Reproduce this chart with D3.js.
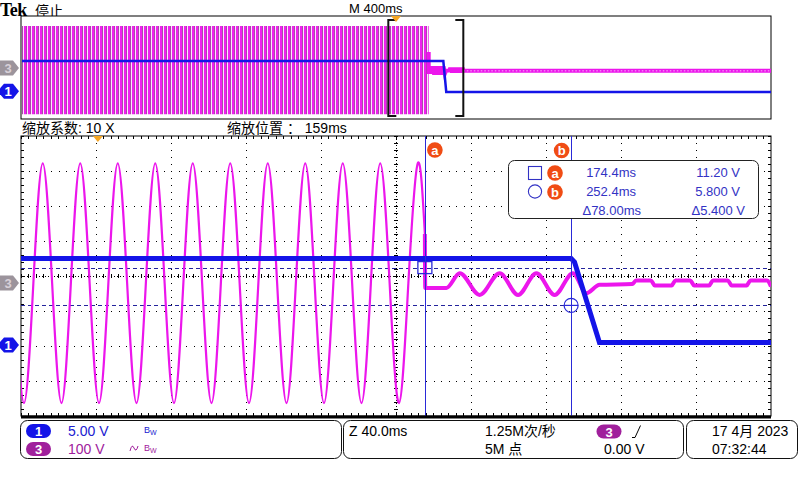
<!DOCTYPE html>
<html>
<head>
<meta charset="utf-8">
<script src="https://cdn.jsdelivr.net/npm/d3@7"></script>
<style>
  html, body { margin: 0; padding: 0; background: #fff; }
  svg { display: block; font-family: "Liberation Sans", "Noto Sans CJK SC", sans-serif; }
</style>
</head>
<body>
<div id="scope"></div>
<script>
// Zoomed window (40 ms/div, centre 159 ms) and the full record (400 ms/div), ms
const zoomWindow = [-41, 359];
const recordWindow = [-2000, 2000];
// Volts covered by the 8 vertical divisions
const ch1Span = [-10, 30];    // 5.00 V/div
const ch3Span = [-380, 420];  // 100 V/div

// CH1, DC supply (ms, V)
const ch1Zoom = [[-41, 12.5], [252.4, 12.5], [254.2, 12.0], [267.5, 0.5], [359, 0.5]];
const ch1Record = [[-2000, 12.5], [252.4, 12.5], [268, 0.5], [2000, 0.5]];

// CH3, mains before the cut: zero crossings, peaks and troughs (ms, V)
const ch3Sine = [
  [-44.4, 0], [-39.4, -343], [-34.4, 0], [-29.4, 342], [-24.4, 0], [-19.4, -343],
  [-14.4, 0], [-9.4, 342], [-4.4, 0], [0.6, -343], [5.6, 0], [10.6, 342],
  [15.6, 0], [20.6, -343], [25.6, 0], [30.6, 342], [35.6, 0], [40.6, -343],
  [45.6, 0], [50.6, 342], [55.6, 0], [60.6, -343], [65.6, 0], [70.6, 342],
  [75.6, 0], [80.6, -343], [85.6, 0], [90.6, 342], [95.6, 0], [100.6, -343],
  [105.6, 0], [110.6, 342], [115.6, 0], [120.6, -343], [125.6, 0], [130.6, 342],
  [135.6, 0], [140.6, -343], [145.6, 0], [150.6, 342], [155.6, 0], [160.6, -343],
  [165.6, 0], [170.6, 342], [174.4, 140]
];
// CH3 after the cut
const ch3After = [
  [174.4, 140], [174.6, -14], [185.9, -14], [193.0, 28], [203.6, -34], [214.3, 28],
  [224.1, -34], [233.9, 28], [243.6, -34], [253.4, 28], [260.5, -29], [267.6, -5],
  [285, -3], [287, 7], [295, 7], [297, -7], [306, -7], [308, 7], [316, 7],
  [318, -7], [326, -7], [328, 7], [336, 7], [338, -7], [346, -7], [348, 7],
  [357, 7], [359, -10]
];
// CH3 in the record view: envelope of the sine, then the residual ripple
const ch3RecordBand = [[-2000, 342, -343], [174.4, 342, -343]];
const ch3RecordTail = [[359, -6], [2000, -6]];

const triggerTime = 0;
const cursorTimes = [174.4, 252.4];
const cursorVolts = [11.20, 5.800];
const cursorNames = ["a", "b"];

const ch1Scale = "5.00 V";
const ch3Scale = "100 V";
const horizLabel = "Z 40.0ms";
const sampleRate = "1.25M次/秒";
const recordLength = "5M 点";
const triggerLevel = "0.00 V";
const dateLabel = "17 4月 2023";
const timeLabel = "07:32:44";

const BLUE = "#1414e8";
const MAGENTA = "#ec16ec";
const CURSOR = "#2a2ad8";
const READOUT = "#3232c4";
const ORANGE = "#f04c14";
const PURPLE = "#a0209c";

class ScopeScreen {
  constructor(containerId) {
    this.svg = d3.select(containerId).append("svg")
      .attr("width", 800).attr("height", 480);

    this.main = { left: 21, right: 771, top: 136, bottom: 416 };
    this.rec = { left: 21, right: 771, top: 16, bottom: 119 };

    this.x = d3.scaleLinear().domain(zoomWindow).range([this.main.left, this.main.right]);
    this.y1 = d3.scaleLinear().domain(ch1Span).range([this.main.bottom, this.main.top]);
    this.y3 = d3.scaleLinear().domain(ch3Span).range([this.main.bottom, this.main.top]);

    this.ox = d3.scaleLinear().domain(recordWindow).range([this.rec.left, this.rec.right]);
    this.oy1 = d3.scaleLinear().domain(ch1Span).range([this.rec.bottom, this.rec.top]);
    this.oy3 = d3.scaleLinear().domain(ch3Span).range([this.rec.bottom, this.rec.top]);

    this.defs();
    this.drawHeader();
    this.drawRecord();
    this.drawMain();
    this.drawStatus();
  }

  defs() {
    const defs = this.svg.append("defs");
    const m = this.main, r = this.rec;
    defs.append("clipPath").attr("id", "mainClip").append("rect")
      .attr("x", m.left).attr("y", m.top).attr("width", m.right - m.left).attr("height", m.bottom - m.top);
    defs.append("clipPath").attr("id", "recClip").append("rect")
      .attr("x", r.left + 1).attr("y", r.top).attr("width", r.right - r.left - 1).attr("height", r.bottom - r.top);

    const p = defs.append("pattern").attr("id", "stripes")
      .attr("patternUnits", "userSpaceOnUse").attr("width", 4).attr("height", 8);
    p.append("rect").attr("width", 4).attr("height", 8).attr("fill", "#fbe6fb");
    p.append("rect").attr("x", 0).attr("width", 2).attr("height", 8).attr("fill", "#f020f0");
    p.append("rect").attr("x", 2).attr("width", 1).attr("height", 8).attr("fill", "#a84aa8");
  }

  drawHeader() {
    const s = this.svg;
    s.append("text").attr("x", 0).attr("y", 16)
      .style("font-family", "'Liberation Serif', serif").style("font-weight", "bold")
      .style("font-size", "18px").style("letter-spacing", "-0.5px").text("Tek");
    s.append("text").attr("x", 35).attr("y", 16).style("font-size", "14px")
      .style("font-family", "'Noto Sans CJK SC'").text("停止");
    s.append("text").attr("x", 349).attr("y", 13).style("font-size", "13px").text("M 400ms");
    s.append("text").attr("x", 22).attr("y", 133).style("font-size", "14px").text("缩放系数: 10 X");
    s.append("text").attr("x", 227).attr("y", 133).style("font-size", "14px").text("缩放位置 ： 159ms");
  }

  marker(g, y, label, fill, textFill, bevel) {
    const d = bevel
      ? `M0,${y - 3}L4,${y - 7.5}H13L19,${y}L13,${y + 7.5}H4L0,${y + 3}Z`
      : `M0,${y - 7.5}H13L19,${y}L13,${y + 7.5}H0Z`;
    g.append("path").attr("d", d).attr("fill", fill);
    g.append("text").attr("x", 8).attr("y", y + 5).attr("text-anchor", "middle")
      .style("font-size", "13px").style("font-weight", "bold").attr("fill", textFill).text(label);
  }

  triggerMark(g, x, y) {
    g.append("path").attr("d", `M${x - 5},${y}L${x + 5},${y}L${x},${y + 6}Z`).attr("fill", "#f5a623");
  }

  drawRecord() {
    const r = this.rec;
    const g = this.svg.append("g");
    g.append("rect").attr("x", r.left).attr("y", r.top)
      .attr("width", r.right - r.left).attr("height", r.bottom - r.top)
      .attr("fill", "#fff").attr("stroke", "#000").attr("stroke-width", 1);

    const traces = g.append("g").attr("clip-path", "url(#recClip)");
    traces.append("path").datum(ch3RecordBand)
      .attr("d", d3.area().x(d => this.ox(d[0])).y0(d => this.oy3(d[2])).y1(d => this.oy3(d[1])))
      .attr("fill", "url(#stripes)");

    const tail = ch3After.concat(ch3RecordTail);
    const tailLine = d3.line().x(d => this.ox(d[0])).y(d => this.oy3(d[1]));
    traces.append("path").datum(tail).attr("d", tailLine)
      .attr("fill", "none").attr("stroke", MAGENTA).attr("stroke-width", 4);
    traces.append("path").datum(ch3RecordTail).attr("d", tailLine)
      .attr("fill", "none").attr("stroke", "#f9b8f9").attr("stroke-width", 1)
      .attr("stroke-dasharray", "1.5,2");

    traces.append("path").datum(ch1Record)
      .attr("d", d3.line().x(d => this.ox(d[0])).y(d => this.oy1(d[1])))
      .attr("fill", "none").attr("stroke", BLUE).attr("stroke-width", 2.5);

    // zoom bracket
    const bx0 = this.ox(zoomWindow[0]), bx1 = this.ox(zoomWindow[1]);
    const bt = r.top + 4, bb = r.bottom - 3;
    g.append("path").attr("d", `M${bx0 + 8},${bt}H${bx0}V${bb}H${bx0 + 8}M${bx1 - 8},${bt}H${bx1}V${bb}H${bx1 - 8}`)
      .attr("fill", "none").attr("stroke", "#111").attr("stroke-width", 2);

    this.triggerMark(g, this.ox(triggerTime), r.top);
    this.marker(g, this.oy3(0) - 2, "3", "#9c949c", "#d8d0d8", false);
    this.marker(g, this.oy1(0) - 2, "1", BLUE, "#fff", true);
  }

  drawGrid(g) {
    const m = this.main;
    const divX = (m.right - m.left) / 10, divY = (m.bottom - m.top) / 8;
    const cx = m.left + 5 * divX, cy = m.top + 4 * divY;

    d3.range(1, 10).filter(k => k !== 5).forEach(k => {
      g.append("line").attr("x1", m.left + k * divX).attr("x2", m.left + k * divX)
        .attr("y1", m.top).attr("y2", m.bottom)
        .attr("stroke", "#000").attr("stroke-dasharray", `1,${divY / 5 - 1}`);
    });
    d3.range(1, 8).filter(k => k !== 4).forEach(k => {
      g.append("line").attr("y1", m.top + k * divY).attr("y2", m.top + k * divY)
        .attr("x1", m.left).attr("x2", m.right)
        .attr("stroke", "#000").attr("stroke-dasharray", `1,${divX / 10 - 1}`);
    });

    // centre crosshair
    g.append("line").attr("x1", m.left).attr("x2", m.right).attr("y1", cy).attr("y2", cy)
      .attr("stroke", "#000").attr("stroke-dasharray", "1,2");
    g.append("line").attr("x1", cx).attr("x2", cx).attr("y1", m.top).attr("y2", m.bottom)
      .attr("stroke", "#000").attr("stroke-dasharray", "1,2");

    const tickH = d3.range(m.left, m.right, divX / 10);
    const tickV = d3.range(m.top, m.bottom, divY / 5);
    tickH.forEach(x => {
      g.append("line").attr("x1", x).attr("x2", x).attr("y1", cy - 2).attr("y2", cy + 2).attr("stroke", "#000");
      g.append("line").attr("x1", x).attr("x2", x).attr("y1", m.top).attr("y2", m.top + 3).attr("stroke", "#000");
      g.append("line").attr("x1", x).attr("x2", x).attr("y1", m.bottom - 3).attr("y2", m.bottom).attr("stroke", "#000");
    });
    tickV.forEach(y => {
      g.append("line").attr("x1", cx - 2).attr("x2", cx + 2).attr("y1", y).attr("y2", y).attr("stroke", "#000");
      g.append("line").attr("x1", m.left).attr("x2", m.left + 3).attr("y1", y).attr("y2", y).attr("stroke", "#000");
      g.append("line").attr("x1", m.right - 3).attr("x2", m.right).attr("y1", y).attr("y2", y).attr("stroke", "#000");
    });
  }

  drawMain() {
    const m = this.main;
    const g = this.svg.append("g");
    g.append("rect").attr("x", m.left).attr("y", m.top)
      .attr("width", m.right - m.left).attr("height", m.bottom - m.top)
      .attr("fill", "#fff").attr("stroke", "#000").attr("stroke-width", 1);
    this.drawGrid(g.append("g").attr("shape-rendering", "crispEdges"));

    const traces = g.append("g").attr("clip-path", "url(#mainClip)");

    // horizontal cursors (CH1 volts)
    traces.selectAll(".hcur").data(cursorVolts).enter().append("line")
      .attr("x1", m.left).attr("x2", m.right)
      .attr("y1", d => Math.round(this.y1(d)) + 0.5).attr("y2", d => Math.round(this.y1(d)) + 0.5)
      .attr("stroke", "#23239c").attr("stroke-width", 1.2).attr("stroke-dasharray", "4,3");

    traces.append("path").datum(ch3Sine)
      .attr("d", d3.line().x(d => this.x(d[0])).y(d => this.y3(d[1])).curve(d3.curveNatural))
      .attr("fill", "none").attr("stroke", MAGENTA).attr("stroke-width", 2.2);
    traces.append("path").datum(ch3After)
      .attr("d", d3.line().x(d => this.x(d[0])).y(d => this.y3(d[1])).curve(d3.curveMonotoneX))
      .attr("fill", "none").attr("stroke", MAGENTA).attr("stroke-width", 4);

    traces.append("path").datum(ch1Zoom)
      .attr("d", d3.line().x(d => this.x(d[0])).y(d => this.y1(d[1])))
      .attr("fill", "none").attr("stroke", BLUE).attr("stroke-width", 5);

    // vertical cursors
    traces.selectAll(".vcur").data(cursorTimes).enter().append("line")
      .attr("x1", d => Math.round(this.x(d)) + 0.5).attr("x2", d => Math.round(this.x(d)) + 0.5)
      .attr("y1", m.top).attr("y2", m.bottom)
      .attr("stroke", CURSOR).attr("stroke-width", 1);

    const ax = this.x(cursorTimes[0]), ay = this.y1(cursorVolts[0]);
    const bx = this.x(cursorTimes[1]), by = this.y1(cursorVolts[1]);
    g.append("rect").attr("x", ax - 7).attr("y", ay - 6).attr("width", 14).attr("height", 12)
      .attr("fill", "none").attr("stroke", CURSOR).attr("stroke-width", 1.3);
    g.append("circle").attr("cx", bx).attr("cy", by).attr("r", 7)
      .attr("fill", "none").attr("stroke", CURSOR).attr("stroke-width", 1.2);
    g.append("line").attr("x1", bx - 7).attr("x2", bx + 7).attr("y1", by).attr("y2", by)
      .attr("stroke", CURSOR).attr("stroke-width", 1.2);

    // thick bottom edge
    g.append("line").attr("x1", m.left).attr("x2", m.right).attr("y1", m.bottom + 1).attr("y2", m.bottom + 1)
      .attr("stroke", "#000").attr("stroke-width", 3);

    this.cursorBadge(g, ax + 10, 150, cursorNames[0]);
    this.cursorBadge(g, bx - 9.5, 150.5, cursorNames[1]);

    this.triggerMark(g, this.x(triggerTime), m.top);
    this.marker(g, this.y3(0), "3", "#9c949c", "#d8d0d8", false);
    this.marker(g, this.y1(0) - 1, "1", BLUE, "#fff", true);

    this.drawReadout(g);
  }

  cursorBadge(g, cx, cy, name) {
    g.append("circle").attr("cx", cx).attr("cy", cy).attr("r", 7.8).attr("fill", ORANGE);
    g.append("text").attr("x", cx).attr("y", cy + 4.5).attr("text-anchor", "middle")
      .style("font-size", "13px").style("font-weight", "bold").attr("fill", "#fff").text(name);
  }

  drawReadout(g) {
    const box = g.append("g");
    box.append("rect").attr("x", 508.5).attr("y", 160.5).attr("width", 250).attr("height", 58)
      .attr("rx", 6).attr("fill", "#fff").attr("stroke", "#222").attr("stroke-width", 1);

    const fmt = d3.format(".4r");
    const dt = cursorTimes[1] - cursorTimes[0];
    const dv = cursorVolts[0] - cursorVolts[1];
    const rows = [
      { t: fmt(cursorTimes[0]) + "ms", v: fmt(cursorVolts[0]) + " V", y: 177 },
      { t: fmt(cursorTimes[1]) + "ms", v: fmt(cursorVolts[1]) + " V", y: 196 },
      { t: "Δ" + fmt(dt) + "ms", v: "Δ" + fmt(dv) + " V", y: 215, shift: 5 }
    ];
    rows.forEach(r => {
      box.append("text").attr("x", 636 + (r.shift || 0)).attr("y", r.y).attr("text-anchor", "end")
        .style("font-size", "13px").attr("fill", READOUT).text(r.t);
      box.append("text").attr("x", 740 + (r.shift || 0)).attr("y", r.y).attr("text-anchor", "end")
        .style("font-size", "13px").attr("fill", READOUT).text(r.v);
    });

    box.append("rect").attr("x", 528.5).attr("y", 166.5).attr("width", 13).attr("height", 13)
      .attr("fill", "none").attr("stroke", READOUT).attr("stroke-width", 1.1);
    box.append("circle").attr("cx", 535).attr("cy", 191.5).attr("r", 6.6)
      .attr("fill", "none").attr("stroke", READOUT).attr("stroke-width", 1.1);
    this.cursorBadge(box, 555, 173, cursorNames[0]);
    this.cursorBadge(box, 555, 192, cursorNames[1]);
  }

  pill(g, cx, cy, label, fill) {
    g.append("rect").attr("x", cx - 12.5).attr("y", cy - 7).attr("width", 25).attr("height", 14)
      .attr("rx", 7).attr("fill", fill);
    g.append("text").attr("x", cx).attr("y", cy + 5).attr("text-anchor", "middle")
      .style("font-size", "13px").style("font-weight", "bold").attr("fill", "#fff").text(label);
  }

  bw(g, x, y, color) {
    const t = g.append("text").attr("x", x).attr("y", y).attr("fill", color).style("font-size", "9px");
    t.append("tspan").text("B");
    t.append("tspan").attr("dy", 2).style("font-size", "7px").text("W");
  }

  drawStatus() {
    const g = this.svg.append("g");
    const boxes = [[20.5, 341.5], [343.5, 683.5], [686.5, 797.5]];
    g.selectAll(".sbox").data(boxes).enter().append("rect")
      .attr("x", d => d[0]).attr("y", 420.5).attr("width", d => d[1] - d[0]).attr("height", 38)
      .attr("rx", 7).attr("fill", "#fff").attr("stroke", "#111").attr("stroke-width", 1);

    const r1 = 436, r2 = 454;
    this.pill(g, 38.5, 431, "1", BLUE);
    this.pill(g, 38.5, 449, "3", PURPLE);
    g.append("text").attr("x", 68).attr("y", r1).style("font-size", "14px").attr("fill", "#2020d0").text(ch1Scale);
    g.append("text").attr("x", 68).attr("y", r2).style("font-size", "14px").attr("fill", PURPLE).text(ch3Scale);
    this.bw(g, 144, 433, "#2020d0");
    this.bw(g, 144, 451, PURPLE);
    g.append("path").attr("d", "M130,451 q2,-8 4,-3 t4,-2").attr("fill", "none")
      .attr("stroke", PURPLE).attr("stroke-width", 1);

    g.append("text").attr("x", 349).attr("y", r1).style("font-size", "14px").text(horizLabel);
    g.append("text").attr("x", 485).attr("y", r1).style("font-size", "14px").text(sampleRate);
    g.append("text").attr("x", 485).attr("y", r2).style("font-size", "14px").text(recordLength);
    this.pill(g, 609, 431.5, "3", PURPLE);
    g.append("path").attr("d", "M632,437.5H635L640.5,425.5").attr("fill", "none").attr("stroke", "#000");
    g.append("text").attr("x", 604).attr("y", r2).style("font-size", "14px").text(triggerLevel);

    g.append("text").attr("x", 712).attr("y", r1).style("font-size", "14px").text(dateLabel);
    g.append("text").attr("x", 712).attr("y", r2).style("font-size", "14px").text(timeLabel);
  }
}

new ScopeScreen("#scope");
</script>
</body>
</html>
